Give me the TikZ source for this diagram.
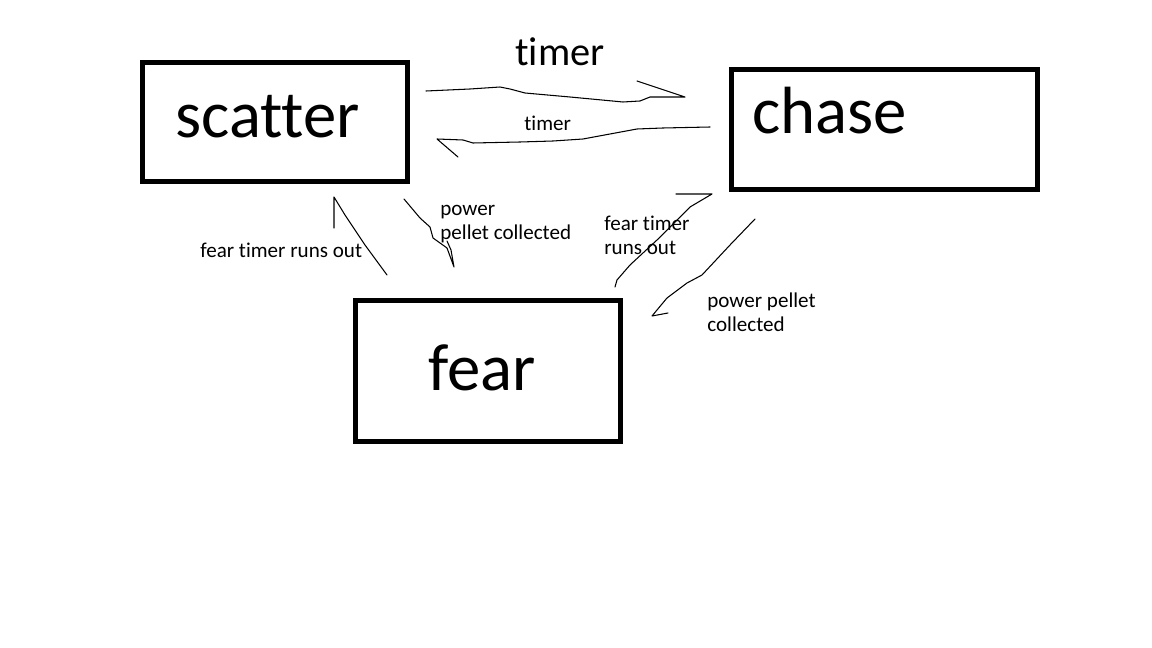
\documentclass[tikz,border=0pt]{standalone}
\usepackage{fontspec}
\setmainfont{Carlito}[Ligatures={NoCommon,NoRequired,NoContextual}]
\usepackage{tikz}
\usetikzlibrary{positioning}
\tikzset{
    state/.style={draw, rectangle, line width=2.6pt, inner sep=0pt},
    state name/.style={font=\fontsize{38}{44}\selectfont, anchor=base west, inner sep=0pt},
    edge label/.style={font=\fontsize{12}{14.2}\selectfont, anchor=base west, inner sep=0pt, align=left},
    sketch/.style={line width=0.6pt, line join=round, line cap=round}
}

\begin{document}
\begin{tikzpicture}[x=0.02cm, y=-0.02cm]
    \useasboundingbox (0,0) rectangle (1152,648);

    % States
    \node[state, minimum width=5.31cm, minimum height=2.39cm] (scatter) at (275,122) {};
    \node[state, minimum width=6.13cm, minimum height=2.41cm] (chase) at (884.5,129.5) {};
    \node[state, minimum width=5.31cm, minimum height=2.83cm] (fear) at (488,371) {};

    \node[state name] (scattername) at (175,138) {scatter};
    \node[state name] (chasename) at (752,134) {chase};
    \node[state name] (fearname) at (428,390) {fear};

    % Transitions
    \coordinate (sc1) at (426,91);
    \coordinate (sc2) at (685,97);
    \draw[sketch] (sc1) -- (470,89) -- (500,87) -- (510,89) -- (525,93) -- (570,97)
        -- (623,102) -- (640,101) -- (650,97) -- (sc2) -- (637,81);

    \coordinate (cs1) at (710,127);
    \coordinate (cs2) at (437,139);
    \draw[sketch] (cs1) -- (663,128) -- (637,129) -- (610,134) -- (583,139) -- (553,141)
        -- (520,142) -- (473,143) -- (463,140) -- (cs2) -- (458,157);

    \coordinate (fs1) at (387,275);
    \coordinate (fs2) at (334,197);
    \draw[sketch] (fs1) -- (365,245) -- (353,227) -- (345,215) -- (fs2) -- (334,228);

    \coordinate (sf1) at (404,199);
    \coordinate (sf2) at (454,267);
    \draw[sketch] (sf1) -- (420,218) -- (430,227) -- (433,238) -- (447,248) -- (sf2)
        -- (451,250) -- (447,241);

    \coordinate (fc1) at (615,287);
    \coordinate (fc2) at (712,194);
    \draw[sketch] (fc1) -- (617,280) -- (630,265) -- (657,240) -- (690,207) -- (fc2) -- (676,194);

    \coordinate (cf1) at (755,219);
    \coordinate (cf2) at (652,316);
    \draw[sketch] (cf1) -- (730,245) -- (702,275) -- (687,283) -- (667,298) -- (cf2) -- (668,313);

    % Labels (base = last line)
    \node[edge label, font=\fontsize{23}{27}\selectfont] (timerbig) at (515,66) {timer};
    \node[edge label] (timersmall) at (524,131) {timer};
    \node[edge label] (pelletleft) at (440,240) {power\\pellet collected};
    \node[edge label] (runsoutleft) at (200,258) {fear timer runs out};
    \node[edge label] (runsoutright) at (604,255) {fear timer\\runs out};
    \node[edge label] (pelletright) at (707,332) {power pellet\\collected};

\end{tikzpicture}
\end{document}
